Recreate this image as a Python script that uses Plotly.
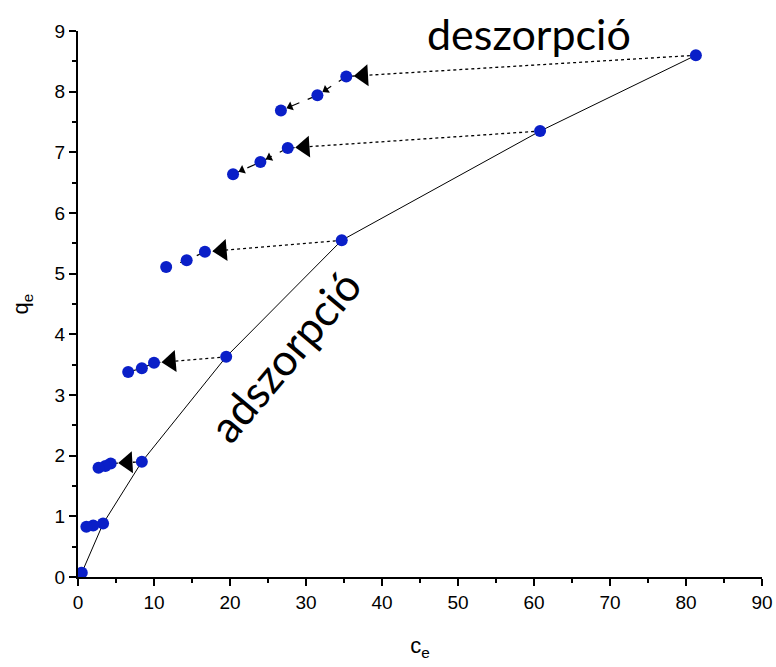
import math
import plotly.graph_objects as go

# adsorption points
ads_x = [0.5, 3.3, 8.4, 19.5, 34.7, 60.8, 81.3]
ads_y = [0.07, 0.88, 1.90, 3.63, 5.55, 7.35, 8.60]

# desorption series (start from adsorption point index 1..6)
des1_x = [2.0, 1.1]
des1_y = [0.85, 0.83]
des2_x = [4.3, 3.6, 2.7]
des2_y = [1.87, 1.83, 1.80]
des3_x = [10.0, 8.4, 6.6]
des3_y = [3.53, 3.44, 3.38]
des4_x = [16.7, 14.3, 11.6]
des4_y = [5.36, 5.22, 5.11]
des5_x = [27.6, 24.0, 20.4]
des5_y = [7.07, 6.84, 6.64]
des6_x = [35.3, 31.5, 26.7]
des6_y = [8.25, 7.94, 7.69]

des_groups = [(des1_x, des1_y), (des2_x, des2_y), (des3_x, des3_y),
              (des4_x, des4_y), (des5_x, des5_y), (des6_x, des6_y)]
big_head = [False, True, True, True, True, True]
small_heads = [False, False, False, False, True, True]

x_tick_vals = [0, 10, 20, 30, 40, 50, 60, 70, 80, 90]
y_tick_vals = [0, 1, 2, 3, 4, 5, 6, 7, 8, 9]

BLUE = "#0A1FC8"
W, H = 776, 667
ML, MR, MT, MB = 78, 14, 31, 90
px_x = (W - ML - MR) / 90.0
px_y = (H - MT - MB) / 9.0


def head_at(x0, y0, x1, y1, off_px):
    """Point off_px pixels from (x1,y1) back towards (x0,y0), and marker angle for
    a left-pointing triangle aimed from (x0,y0) to (x1,y1)."""
    ddx = (x0 - x1) * px_x
    ddy = (y0 - y1) * px_y
    d = math.hypot(ddx, ddy)
    hx = x1 + (ddx / d) * off_px / px_x
    hy = y1 + (ddy / d) * off_px / px_y
    ang = -math.degrees(math.atan2(ddy, ddx))
    return hx, hy, ang


fig = go.Figure()

# adsorption line
fig.add_trace(go.Scatter(x=ads_x, y=ads_y, mode="lines",
                         line=dict(color="black", width=1), hoverinfo="skip"))

head_x, head_y, head_ang = [], [], []
sm_x, sm_y, sm_ang = [], [], []
for i, (dx, dy) in enumerate(des_groups):
    sx, sy = ads_x[i + 1], ads_y[i + 1]
    fig.add_trace(go.Scatter(x=[sx, dx[0]], y=[sy, dy[0]], mode="lines",
                             line=dict(color="black", width=1.3, dash="dot"),
                             hoverinfo="skip"))
    fig.add_trace(go.Scatter(x=dx, y=dy, mode="lines",
                             line=dict(color="black", width=1.2, dash="dash"),
                             hoverinfo="skip"))
    if big_head[i]:
        hx, hy, ang = head_at(sx, sy, dx[0], dy[0], 17)
        head_x.append(hx)
        head_y.append(hy)
        head_ang.append(ang)
    if small_heads[i]:
        for k in range(len(dx) - 1):
            hx, hy, ang = head_at(dx[k], dy[k], dx[k + 1], dy[k + 1], 10)
            sm_x.append(hx)
            sm_y.append(hy)
            sm_ang.append(ang)

fig.add_trace(go.Scatter(x=head_x, y=head_y, mode="markers",
                         marker=dict(symbol="triangle-left", size=19, color="black",
                                     angle=head_ang, line=dict(width=0)),
                         hoverinfo="skip"))
fig.add_trace(go.Scatter(x=sm_x, y=sm_y, mode="markers",
                         marker=dict(symbol="triangle-left", size=8, color="black",
                                     angle=sm_ang, line=dict(width=0)),
                         hoverinfo="skip"))

# points
all_x = list(ads_x)
all_y = list(ads_y)
for dx, dy in des_groups:
    all_x += dx
    all_y += dy
fig.add_trace(go.Scatter(x=all_x, y=all_y, mode="markers",
                         marker=dict(size=12, color=BLUE, line=dict(width=0)),
                         hoverinfo="skip"))

annotations = [
    dict(text="deszorpció", xref="paper", yref="paper",
         x=(529 - ML) / (W - ML - MR), y=1 - (34 - MT) / (H - MT - MB),
         showarrow=False, font=dict(family="Lato", size=43, color="black"),
         xanchor="center", yanchor="middle"),
    dict(text="adszorpció", xref="paper", yref="paper",
         x=(284 - ML) / (W - ML - MR), y=1 - (356 - MT) / (H - MT - MB),
         showarrow=False, textangle=-50,
         font=dict(family="Lato", size=44, color="black"),
         xanchor="center", yanchor="middle"),
]

axis_common = dict(showline=True, linecolor="black", linewidth=2, ticks="outside",
                   ticklen=7, tickwidth=2, tickcolor="black", showgrid=False,
                   zeroline=False, mirror=False, automargin=False,
                   tickfont=dict(family="Liberation Sans", size=19, color="black"),
                   minor=dict(ticks="outside", ticklen=4, tickwidth=2, tickcolor="black"))

fig.update_layout(
    width=W, height=H, margin=dict(l=ML, r=MR, t=MT, b=MB),
    plot_bgcolor="white", paper_bgcolor="white", showlegend=False,
    annotations=annotations,
    xaxis=dict(range=[0, 90], tickvals=x_tick_vals,
               title=dict(text="c<sub>e</sub>", standoff=26,
                          font=dict(family="Liberation Sans", size=22, color="black")),
               **axis_common),
    yaxis=dict(range=[0, 9], tickvals=y_tick_vals,
               title=dict(text="q<sub>e</sub>", standoff=20,
                          font=dict(family="Liberation Sans", size=22, color="black")),
               **axis_common),
)
fig.update_xaxes(minor_dtick=5)
fig.update_yaxes(minor_dtick=0.5)

fig.write_html("out.html")
